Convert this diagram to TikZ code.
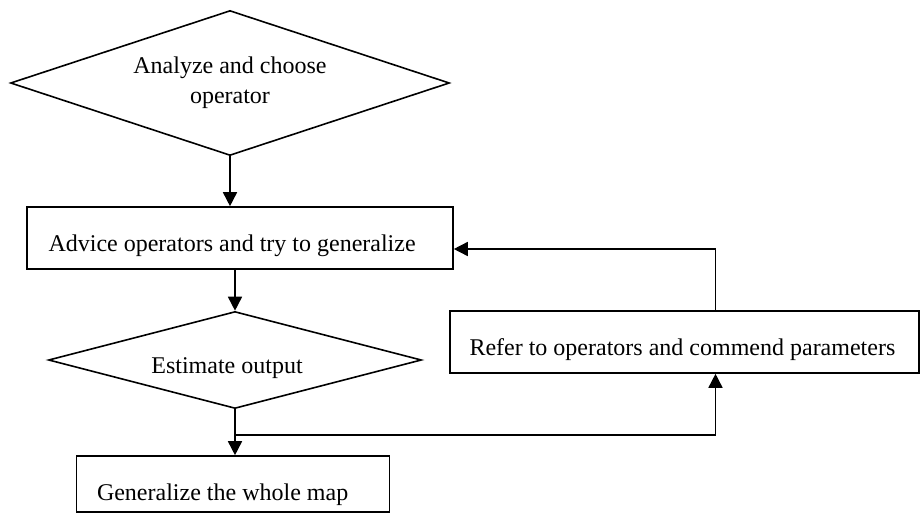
\documentclass[tikz,border=0pt]{standalone}
\usepackage{fontspec}
\setmainfont{Liberation Serif}
\usetikzlibrary{shapes.geometric,arrows.meta,positioning}

\begin{document}
\begin{tikzpicture}[x=1pt,y=-1pt,line width=1.6pt,
		every node/.style={font=\fontsize{24}{30}\selectfont},
		decision/.style={draw,diamond,inner sep=0pt,align=center},
		stepbox/.style={draw,rectangle,inner sep=0pt,align=flush left,text depth=0pt},
		flow/.style={-{Triangle[length=14pt,width=14pt]}}]
	\useasboundingbox (0,0) rectangle (920,514);
	\node[decision,aspect=3.03,minimum width=439pt,minimum height=145pt] (analyze) at (230,83) {Analyze and choose\\operator};
	\node[stepbox,minimum width=426pt,minimum height=62pt,text height=26pt,text width=383pt] (advice) at (240,238) {Advice operators and try to generalize};
	\node[decision,aspect=3.85,minimum width=373pt,minimum height=97pt,text depth=0pt,text height=26pt] (estimate) at (235,360) {Estimate output\hspace*{16pt}};
	\node[stepbox,minimum width=313pt,minimum height=56pt,text height=32pt,text width=272pt] (whole) at (233,484) {Generalize the whole map};
	\node[stepbox,minimum width=469pt,minimum height=62pt,text height=26pt,text width=430pt] (refer) at (684.5,342) {Refer to operators and commend parameters};
	\coordinate (split) at (235,435);
	\draw[flow] (analyze.south) -- (analyze.south |- advice.north);
	\draw[flow] (estimate.north |- advice.south) -- (estimate.north);
	\draw[flow] (estimate.south) -- (estimate.south |- whole.north);
	\draw[flow] (split) -| ([xshift=31pt]refer.south);
	\draw[flow] ([xshift=31pt]refer.north) |- ([yshift=-11pt]advice.east);
\end{tikzpicture}
\end{document}
